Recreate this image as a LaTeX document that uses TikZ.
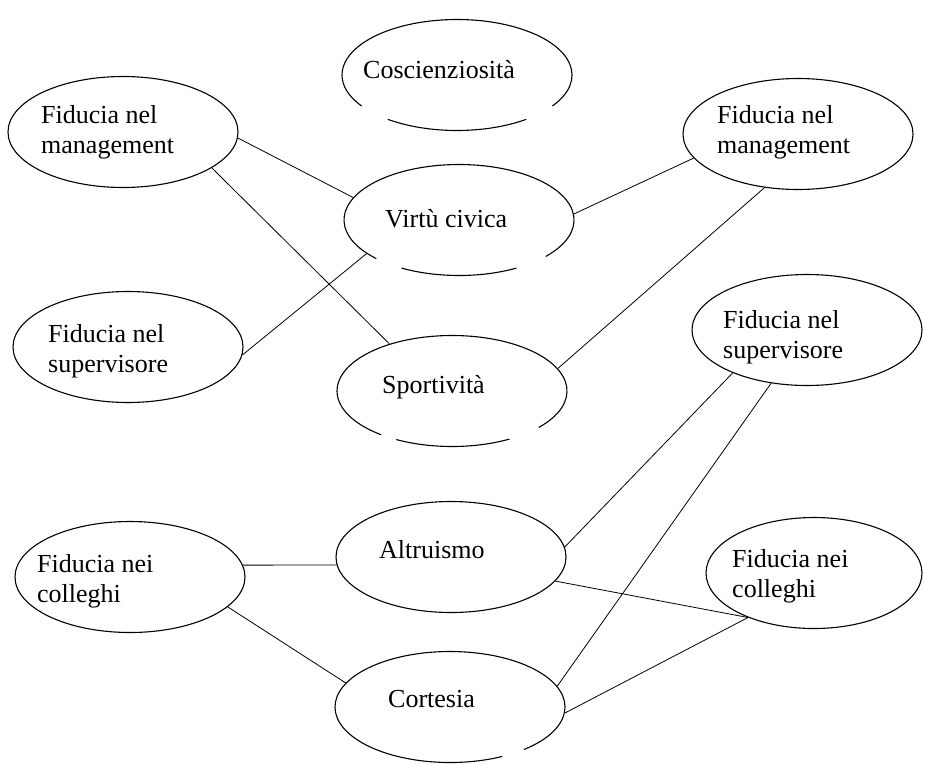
\documentclass[tikz,border=0pt]{standalone}
\usepackage{fontspec}
\setmainfont{Liberation Serif}
\usepackage{tikz}
\usetikzlibrary{shapes.geometric}

\begin{document}
\begin{tikzpicture}[x=1pt,y=-1pt,
        oval/.style = {draw,
            ellipse,
            line width=1.1pt,
            minimum width=230pt,
            minimum height=111pt,
            inner sep=0pt},
        broken/.style = {oval,
            draw=none},
        rim/.style = {line width=1.1pt},
        txt/.style = {anchor=base west,
            align=left,
            inner sep=0pt,
            font=\fontsize{26}{30}\selectfont},
        link/.style = {line width=0.8pt}]

    \useasboundingbox (0,0) rectangle (925,763);

    % Middle column (outlines broken at the bottom)
    \node[broken] (cosc) at (457,75){};
    \node[txt] (cosc-t) at (363,78){Coscienziosità};
    \node[broken] (virtu) at (459,220){};
    \node[txt] (virtu-t) at (385,227){Virtù civica};
    \node[broken] (sport) at (452,391){};
    \node[txt] (sport-t) at (382,393){Sportività};
    \node[oval] (altru) at (451,557){};
    \node[txt] (altru-t) at (379,558){Altruismo};
    \node[broken] (cort) at (450,707){};
    \node[txt] (cort-t) at (388,707){Cortesia};

    \draw[rim] ([shift={(326:115pt and 55.5pt)}]cosc.center)
        arc[start angle=326, end angle=574, x radius=115pt, y radius=55.5pt];
    \draw[rim] ([shift={(233:115pt and 55.5pt)}]cosc.center)
        arc[start angle=233, end angle=307, x radius=115pt, y radius=55.5pt];
    \draw[rim] ([shift={(319:115pt and 55.5pt)}]virtu.center)
        arc[start angle=319, end angle=584, x radius=115pt, y radius=55.5pt];
    \draw[rim] ([shift={(240:115pt and 55.5pt)}]virtu.center)
        arc[start angle=240, end angle=300, x radius=115pt, y radius=55.5pt];
    \draw[rim] ([shift={(319:115pt and 55.5pt)}]sport.center)
        arc[start angle=319, end angle=592, x radius=115pt, y radius=55.5pt];
    \draw[rim] ([shift={(241:115pt and 55.5pt)}]sport.center)
        arc[start angle=241, end angle=300, x radius=115pt, y radius=55.5pt];
    \draw[rim] ([shift={(310:115pt and 55.5pt)}]cort.center)
        arc[start angle=310, end angle=657, x radius=115pt, y radius=55.5pt];

    % Left column
    \node[oval] (mgmtL) at (123,132){};
    \node[txt] (mgmtL-t) at (41,153){Fiducia nel\\management};
    \node[oval] (supL) at (128,347){};
    \node[txt] (supL-t) at (48,372){Fiducia nel\\supervisore};
    \node[oval] (collL) at (130,577){};
    \node[txt] (collL-t) at (37,602){Fiducia nei\\colleghi};

    % Right column
    \node[oval] (mgmtR) at (798,134){};
    \node[txt] (mgmtR-t) at (717,153){Fiducia nel\\management};
    \node[oval] (supR) at (807,330){};
    \node[txt] (supR-t) at (723,358){Fiducia nel\\supervisore};
    \node[oval, minimum width=216pt] (collR) at (814,573){};
    \node[txt] (collR-t) at (732,597){Fiducia nei\\colleghi};

    % Connectors
    \draw[link] (mgmtL.357) -- (virtu.168);
    \draw[link] (mgmtL.338) -- (sport.143);
    \draw[link] (supL.356) -- (virtu.200);
    \draw[link] (virtu.3) -- (mgmtR.193);
    \draw[link] (sport.12) -- (mgmtR.238);
    \draw[link] (altru.5) -- (supR.210);
    \draw[link] (cort.11) -- (supR.236);
    \draw[link] (collL.6) -- (altru.184);
    \draw[link] (collL.343) -- (cort.167);
    \draw[link] (altru.347) -- (collR.214);
    \draw[link] (cort.357) -- (collR.214);

\end{tikzpicture}
\end{document}
